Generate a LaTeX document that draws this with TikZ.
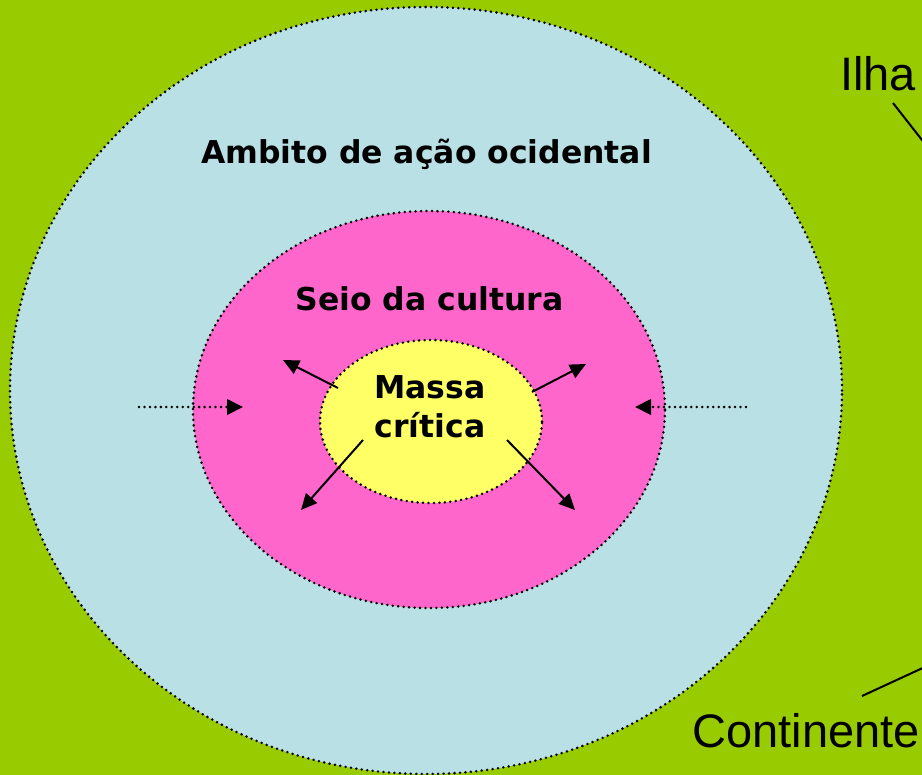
\documentclass[tikz,border=0pt]{standalone}
\usepackage{fontspec}
\usepackage{tikz}
\usetikzlibrary{shapes.geometric,arrows.meta}
\newfontfamily\zonefont{DejaVu Sans}
\newfontfamily\sidefont{Liberation Sans}
\definecolor{black}{RGB}{0,0,0}
\definecolor{lime_green}{RGB}{153,204,0}
\definecolor{pale_blue}{RGB}{185,224,228}
\definecolor{hot_pink}{RGB}{255,102,204}
\definecolor{light_yellow}{RGB}{255,255,102}

\begin{document}
\begin{tikzpicture}[x=0.75pt,y=-0.75pt,
	zone/.style={ellipse,draw=black,line width=2.1pt,line cap=round,dash pattern=on 0pt off 4.1pt,inner sep=0pt},
	zonelabel/.style={font=\zonefont\bfseries\fontsize{23.6}{29.25}\selectfont,anchor=base,inner sep=0pt,align=center},
	sidelabel/.style={font=\sidefont\fontsize{35.25}{40}\selectfont,anchor=base,inner sep=0pt}]
	\useasboundingbox (0,0) rectangle (922,775);
	\fill[lime_green] (0,0) rectangle (922,775);
	\clip (0,0) rectangle (922,775);

	% the three zones
	\node[zone,fill=pale_blue,minimum width=624pt,minimum height=575.25pt] (ambito) at (426,390.5) {};
	\node[zone,fill=hot_pink,minimum width=354pt,minimum height=297.75pt] (seio) at (429,409.5) {};
	\node[zone,fill=light_yellow,minimum width=166.5pt,minimum height=122.25pt] (massa) at (431,421.5) {};

	\node[zonelabel] (ambitotext) at (426.5,163) {Ambito de ação ocidental};
	\node[zonelabel] (seiotext) at (429.5,310) {Seio da cultura};
	\node[zonelabel] (massatext) at (430,437) {Massa\\crítica};

	\node[sidelabel] (ilha) at (878,90) {Ilha};
	\node[sidelabel] (continente) at (806,747) {Continente};

	% arrows out of the core
	\coordinate (m1) at (338,388); \coordinate (s1) at (283,360);
	\coordinate (m2) at (532,392); \coordinate (s2) at (586,364);
	\coordinate (m3) at (363,440); \coordinate (s3) at (301,510);
	\coordinate (m4) at (507,440); \coordinate (s4) at (575,510);
	\foreach \x/\y in {m1/s1,m2/s2,m3/s3,m4/s4}
		\draw[black,line width=1.5pt,-{Triangle[length=12pt,width=11pt]}] (\x) -- (\y);

	% arrows coming in from the outer zone
	\coordinate (a1) at (139,407); \coordinate (b1) at (243,407);
	\coordinate (a2) at (746,407); \coordinate (b2) at (635,407);
	\foreach \x/\y in {a1/b1,a2/b2}
		\draw[black,line width=2.1pt,line cap=round,dash pattern=on 0pt off 4.1pt,-{Triangle[length=12pt,width=11.5pt]}] (\x) -- (\y);

	% pointers to the island and the continent
	\coordinate (ilhaline) at (893,103); \coordinate (ilhaend) at (940,163);
	\coordinate (contline) at (862,696); \coordinate (contend) at (940,660);
	\draw[black,line width=1.5pt] (ilhaline) -- (ilhaend);
	\draw[black,line width=1.5pt] (contline) -- (contend);
\end{tikzpicture}
\end{document}
